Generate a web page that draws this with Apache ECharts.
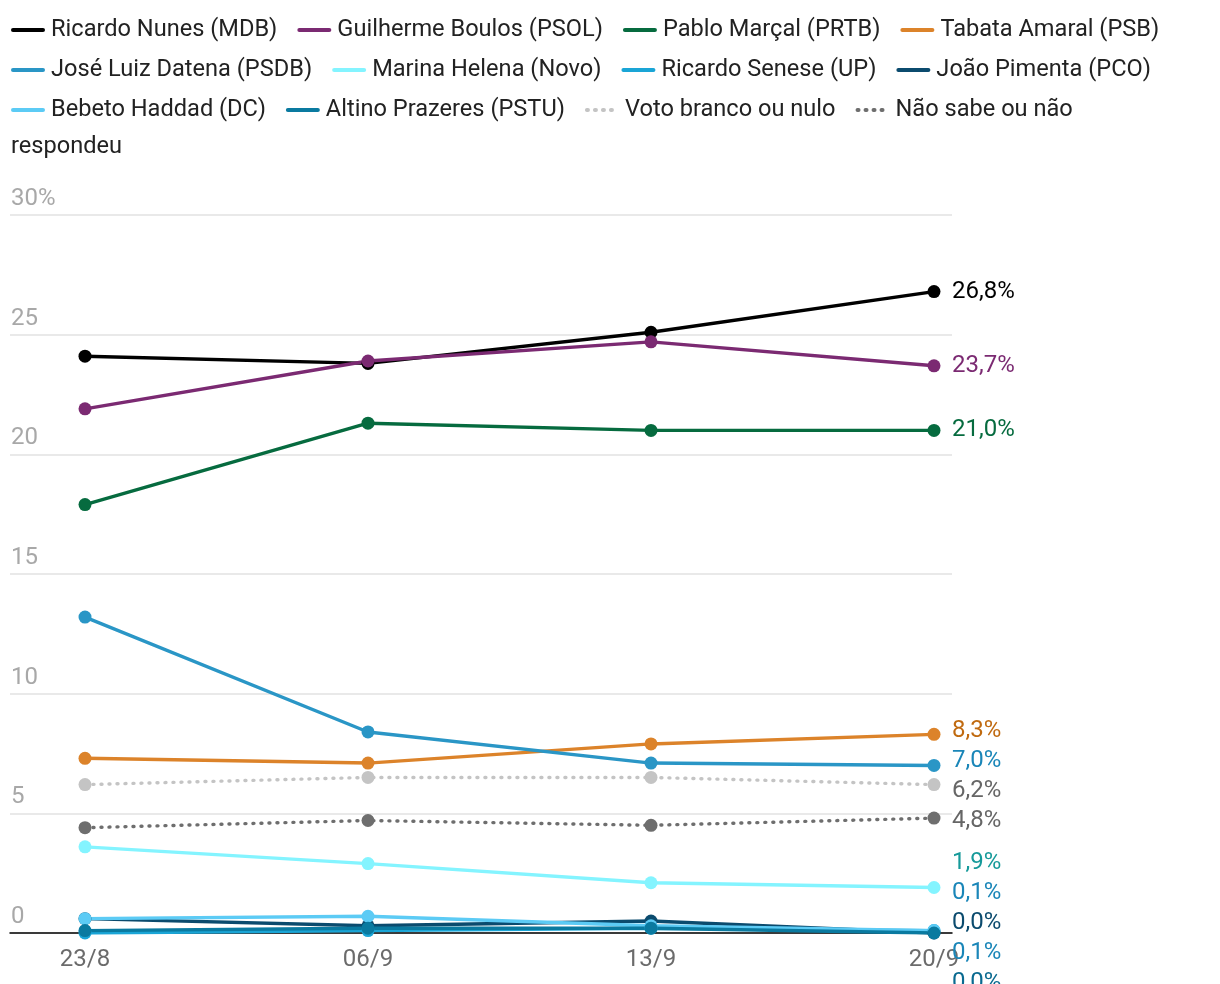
<!DOCTYPE html>
<html><head><meta charset="utf-8">
<script src="https://cdn.jsdelivr.net/npm/echarts@6/dist/echarts.min.js"></script>
<style>html,body{margin:0;padding:0;background:#fff}#c{width:1220px;height:984px}</style>
</head><body><div id="c"></div>
<script>
const dates = ['23/8', '06/9', '13/9', '20/9'];
const yTicks = [0, 5, 10, 15, 20, 25, 30];
const names = ['Ricardo Nunes (MDB)', 'Guilherme Boulos (PSOL)', 'Pablo Marçal (PRTB)', 'Tabata Amaral (PSB)',
  'José Luiz Datena (PSDB)', 'Marina Helena (Novo)', 'Ricardo Senese (UP)', 'João Pimenta (PCO)',
  'Bebeto Haddad (DC)', 'Altino Prazeres (PSTU)', 'Voto branco ou nulo', 'Não sabe ou não respondeu'];
const nunes = [24.1, 23.8, 25.1, 26.8];
const boulos = [21.9, 23.9, 24.7, 23.7];
const marcal = [17.9, 21.3, 21.0, 21.0];
const tabata = [7.3, 7.1, 7.9, 8.3];
const datena = [13.2, 8.4, 7.1, 7.0];
const marina = [3.6, 2.9, 2.1, 1.9];
const senese = [0.0, 0.1, 0.2, 0.1];
const pimenta = [0.6, 0.3, 0.5, 0.0];
const bebeto = [0.6, 0.7, 0.3, 0.1];
const altino = [0.1, 0.2, 0.2, 0.0];
const branco = [6.2, 6.5, 6.5, 6.2];
const naoSabe = [4.4, 4.7, 4.5, 4.8];

const values = [nunes, boulos, marcal, tabata, datena, marina, senese, pimenta, bebeto, altino, branco, naoSabe];
const lineColors = ['#000000', '#7b2a72', '#066b3f', '#dc832a', '#2a96c6', '#84f4ff', '#1aa5d6', '#0b4b6e', '#5ccbf5', '#0a7aa0', '#c4c4c4', '#6e6e6e'];
const labelColors = ['#000000', '#7b2a72', '#066b3f', '#c06a10', '#1a86b8', '#169a9a', '#1a86b8', '#0b4b6e', '#1a86b8', '#0a6a90', '#666666', '#666666'];
const dotted = [false, false, false, false, false, false, false, false, false, false, true, true];

const FONT = 'Roboto';
const LABEL_GAP = 30;
const fmt = v => v.toFixed(1).replace('.', ',') + '%';

let labelPos = null;

const series = names.map((n, i) => ({
  name: n,
  type: 'line',
  data: values[i].map((v, j) => [j, v]),
  symbol: 'circle',
  symbolSize: 13,
  color: lineColors[i],
  lineStyle: { width: 3.4, color: lineColors[i], type: dotted[i] ? [1, 7] : 'solid', cap: 'round' },
  itemStyle: { color: lineColors[i] },
  endLabel: {
    show: true, distance: 18, align: 'left', verticalAlign: 'middle',
    formatter: p => fmt(p.value[1]),
    color: labelColors[i], fontFamily: FONT, fontSize: 24
  },
  labelLayout: p => labelPos ? labelPos[p.seriesIndex] : {},
  emphasis: { disabled: true },
  animation: false
}));

const chart = echarts.init(document.getElementById('c'), null, { renderer: 'canvas' });
const option = {
  animation: false,
  backgroundColor: '#fff',
  legend: {
    left: 11, top: 18, width: 1200, padding: 0,
    itemWidth: 30, itemHeight: 14, itemGap: 16,
    itemStyle: { opacity: 0 },
    lineStyle: { width: 4 },
    textStyle: { fontFamily: FONT, fontSize: 23.6, color: '#222', lineHeight: 24, padding: [0, 4, 0, 3] },
    formatter: n => n === 'Não sabe ou não respondeu' ? 'Não sabe ou não' : n,
    selectedMode: false
  },
  graphic: [{
    type: 'text', left: 11, top: 135,
    style: { text: 'respondeu', fontFamily: FONT, fontSize: 23.6, fill: '#222' }
  }],
  grid: { left: 10, right: 268, top: 215, bottom: 51, containLabel: false },
  xAxis: {
    type: 'value',
    min: (10 - 85) / 283,
    max: 3 + (952 - 934) / 283,
    axisLine: { show: true, lineStyle: { color: '#000', width: 1.5 } },
    axisTick: { show: false },
    splitLine: { show: false },
    axisLabel: {
      customValues: [0, 1, 2, 3],
      formatter: v => dates[Math.round(v)],
      fontFamily: FONT, fontSize: 24, color: '#6b6b6b', margin: 15
    }
  },
  yAxis: {
    type: 'value', min: 0, max: 30, interval: 5,
    axisLine: { show: false }, axisTick: { show: false },
    splitLine: { show: true, lineStyle: { color: '#e2e2e2', width: 1.5 } },
    axisLabel: {
      inside: true, margin: 1,
      verticalAlign: 'bottom',
      padding: [0, 0, 4, 0],
      formatter: v => v === yTicks[yTicks.length - 1] ? v + '%' : String(v),
      fontFamily: FONT, fontSize: 24, color: '#a8a8a8'
    }
  },
  series: series
};
chart.setOption(option);

// spread end labels (positions derived from the chart's own scales)
const items = values.map((arr, i) => {
  const last = arr.length - 1;
  const px = chart.convertToPixel({ xAxisIndex: 0, yAxisIndex: 0 }, [last, arr[last]]);
  return { i, x: px[0], y: px[1] };
});
items.sort((a, b) => Math.abs(a.y - b.y) < 4 ? a.i - b.i : a.y - b.y);
let groups = items.map(it => ({ members: [it], center: it.y }));
let changed = true;
while (changed) {
  changed = false;
  for (let g = 0; g < groups.length - 1; g++) {
    const A = groups[g], B = groups[g + 1];
    const aBottom = A.center + (A.members.length - 1) * LABEL_GAP / 2;
    const bTop = B.center - (B.members.length - 1) * LABEL_GAP / 2;
    if (bTop - aBottom < LABEL_GAP) {
      const members = A.members.concat(B.members);
      const center = members.reduce((s, m) => s + m.y, 0) / members.length;
      groups.splice(g, 2, { members, center });
      changed = true;
      break;
    }
  }
}
labelPos = {};
groups.forEach(g => {
  const n = g.members.length;
  g.members.forEach((m, k) => {
    labelPos[m.i] = { x: m.x + 18, y: g.center + (k - (n - 1) / 2) * LABEL_GAP, align: 'left', verticalAlign: 'middle' };
  });
});
chart.setOption({ series: series.map(s => ({ labelLayout: p => labelPos[p.seriesIndex] })) });
</script></body></html>
